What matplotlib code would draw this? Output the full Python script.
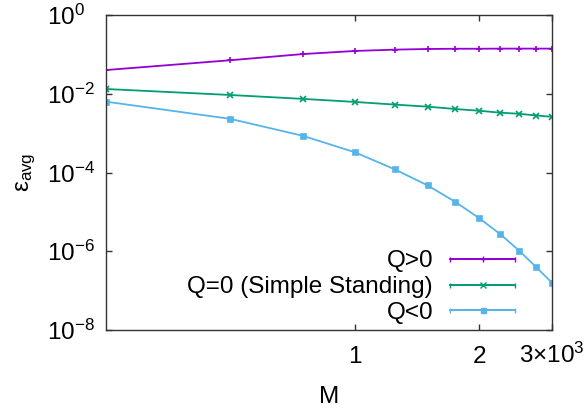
import numpy as np
import matplotlib
matplotlib.use('Agg')
import matplotlib.pyplot as plt
from matplotlib.ticker import FixedLocator, FixedFormatter, NullLocator
from matplotlib.container import ErrorbarContainer
from matplotlib.legend_handler import HandlerErrorbar

plt.rcParams['font.family'] = ['Liberation Sans', 'DejaVu Sans']
plt.rcParams['mathtext.fontset'] = 'custom'
plt.rcParams['mathtext.rm'] = 'Liberation Sans'
plt.rcParams['mathtext.it'] = 'Liberation Sans'
plt.rcParams['mathtext.default'] = 'regular'

# ---- data ----
M = [250, 500, 750, 1000, 1250, 1500, 1750, 2000, 2250, 2500, 2750, 3000]
eps_pos = [0.040, 0.071, 0.102, 0.122, 0.132, 0.137, 0.139, 0.139, 0.14, 0.14, 0.14, 0.14]
eps_zero = [0.0132, 0.0093, 0.0074, 0.0062, 0.0053, 0.0047, 0.0041, 0.0037, 0.0033, 0.0031, 0.0028, 0.0026]
eps_neg = [0.0063, 0.0023, 0.00085, 3.27e-4, 1.2e-4, 4.7e-5, 1.8e-5, 6.9e-6, 2.7e-6, 1.03e-6, 3.9e-7, 1.58e-7]
series = [eps_pos, eps_zero, eps_neg]
labels = ['Q>0', 'Q=0 (Simple Standing)', 'Q<0']
colors = ['#9400d3', '#009e73', '#56b4e9']
markers = ['+', 'x', 's']
msizes = [5, 4.5, 3.6]

xticks = [1000, 2000, 3000]
xticklabels = ['1', '2', r'$3{\times}10^{3}$']
yticks = [1e0, 1e-2, 1e-4, 1e-6, 1e-8]
yticklabels = [r'$10^{0}$', r'$10^{-2}$', r'$10^{-4}$', r'$10^{-6}$', r'$10^{-8}$']

FS = 17.5
fig = plt.figure(figsize=(5.87, 4.13), dpi=100)
ax = fig.add_axes([106/587, (413-330)/413, 446/587, 315/413])

for y, c, m, ms in zip(series, colors, markers, msizes):
    ax.plot(M, y, color=c, marker=m, ms=ms, mew=1.2, lw=1.3)

ax.set_xscale('log')
ax.set_yscale('log')
ax.set_xlim(250, 3000)
ax.set_ylim(1e-8, 1e0)

ax.xaxis.set_major_locator(FixedLocator(xticks))
ax.xaxis.set_major_formatter(FixedFormatter(xticklabels))
ax.xaxis.set_minor_locator(NullLocator())
ax.yaxis.set_major_locator(FixedLocator(yticks))
ax.yaxis.set_major_formatter(FixedFormatter(yticklabels))
ax.yaxis.set_minor_locator(NullLocator())

ax.tick_params(which='both', direction='in', top=True, right=True, length=4,
               width=1, labelsize=FS, color='#333333')
ax.tick_params(axis='x', pad=24)
ax.tick_params(axis='y', pad=42.5)
for s in ax.spines.values():
    s.set_linewidth(1.0)
    s.set_color('#333333')

ax.set_xlabel('M', fontsize=FS)
ax.xaxis.set_label_coords(0.5, -0.178)
ax.set_ylabel(r'$\varepsilon_{avg}$', fontsize=FS)
ax.yaxis.set_label_coords(-0.153, 0.5)

# legend proxies (NaN points, only used for legend handles)
handles = []
for c, m, ms in zip(colors, markers, msizes):
    h = ax.errorbar([np.nan], [np.nan], xerr=[1.0], color=c, marker=m, ms=ms, mew=1.0,
                    lw=1.3, capsize=1.8, elinewidth=1.3, capthick=1.3)
    handles.append(h)
hl = 2.67
leg = ax.legend(handles, labels, loc='center right', bbox_to_anchor=(0.917, 0.1365),
                frameon=False, markerfirst=False, fontsize=FS, handlelength=hl,
                handletextpad=0.7, labelspacing=0.15, borderpad=0, borderaxespad=0,
                numpoints=1,
                handler_map={ErrorbarContainer: HandlerErrorbar(xerr_size=hl/2)})

plt.setp(ax.get_xticklabels(), va='baseline')
plt.setp(ax.get_yticklabels(), ha='left')

fig.savefig('out.png', dpi=100)
